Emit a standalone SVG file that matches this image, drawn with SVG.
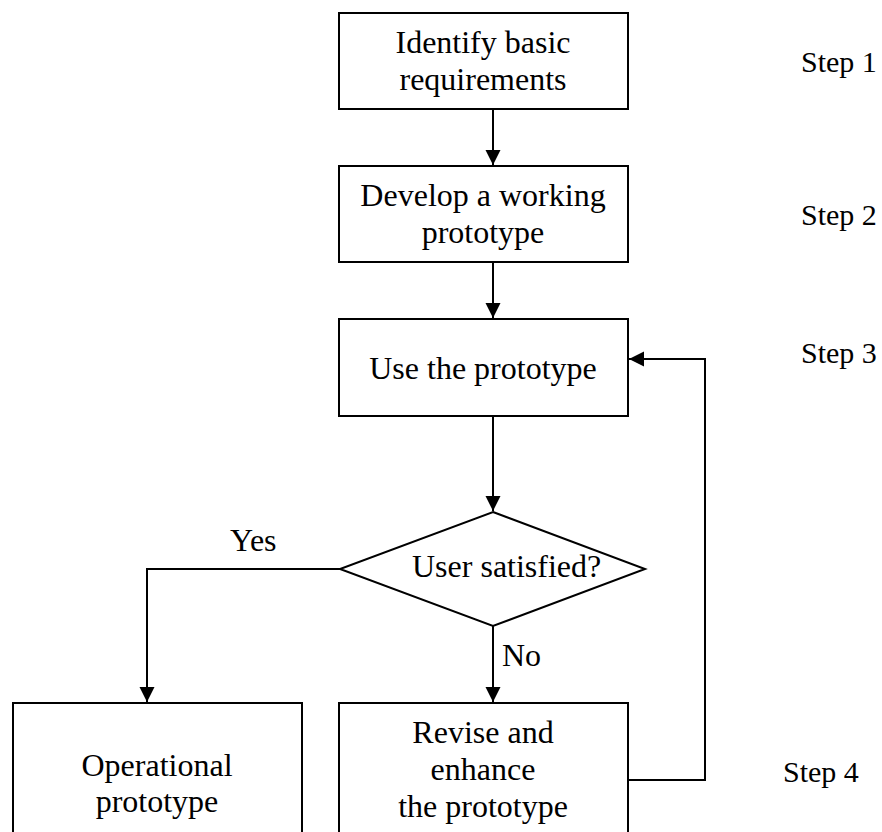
<svg xmlns="http://www.w3.org/2000/svg" width="882" height="832" viewBox="0 0 882 832">
  <style>
    .box { fill: #ffffff; stroke: #000000; stroke-width: 2; }
    .edge { fill: none; stroke: #000000; stroke-width: 2; }
    text { font-family: "Liberation Serif", "Times New Roman", serif; font-size: 32px; fill: #000000; }
    .c { text-anchor: middle; }
    .step { font-size: 30px; }
  </style>
  <defs>
    <marker id="arrow" markerUnits="userSpaceOnUse" markerWidth="16" markerHeight="16" viewBox="0 0 16 16" refX="15" refY="8" orient="auto">
      <path d="M0,0.5 L15,8 L0,15.5 Z" fill="#000000"/>
    </marker>
  </defs>

  <rect width="882" height="832" fill="#ffffff"/>

  <!-- connectors -->
  <g id="connectors">
    <path class="edge" d="M493,109 L493,165" marker-end="url(#arrow)"/>
    <path class="edge" d="M493,262 L493,318" marker-end="url(#arrow)"/>
    <path class="edge" d="M493,416 L493,511" marker-end="url(#arrow)"/>
    <path class="edge" d="M340,569 L147,569 L147,702" marker-end="url(#arrow)"/>
    <path class="edge" d="M493,626 L493,702" marker-end="url(#arrow)"/>
    <path class="edge" d="M628,780 L705,780 L705,359 L629,359" marker-end="url(#arrow)"/>
    <text x="230" y="551">Yes</text>
    <text x="502" y="666">No</text>
  </g>

  <!-- nodes -->
  <g id="identify">
    <rect class="box" x="339" y="13" width="289" height="96"/>
    <text class="c" x="483" y="53">Identify basic</text>
    <text class="c" x="483" y="90">requirements</text>
  </g>
  <g id="develop">
    <rect class="box" x="339" y="166" width="289" height="96"/>
    <text class="c" x="483" y="206">Develop a working</text>
    <text class="c" x="483" y="243">prototype</text>
  </g>
  <g id="use">
    <rect class="box" x="339" y="319" width="289" height="97"/>
    <text class="c" x="483" y="379">Use the prototype</text>
  </g>
  <g id="decision">
    <polygon class="box" points="493,512 645,569 493,626 340,569"/>
    <text x="412" y="577">User satisfied?</text>
  </g>
  <g id="operational">
    <rect class="box" x="13" y="703" width="289" height="140"/>
    <text class="c" x="157" y="776">Operational</text>
    <text class="c" x="157" y="812">prototype</text>
  </g>
  <g id="revise">
    <rect class="box" x="339" y="703" width="289" height="140"/>
    <text class="c" x="483" y="743">Revise and</text>
    <text class="c" x="483" y="780">enhance</text>
    <text class="c" x="483" y="817">the prototype</text>
  </g>

  <!-- step labels -->
  <g id="steps">
    <text class="step" x="801" y="72">Step 1</text>
    <text class="step" x="801" y="225">Step 2</text>
    <text class="step" x="801" y="363">Step 3</text>
    <text class="step" x="783" y="782">Step 4</text>
  </g>
</svg>
